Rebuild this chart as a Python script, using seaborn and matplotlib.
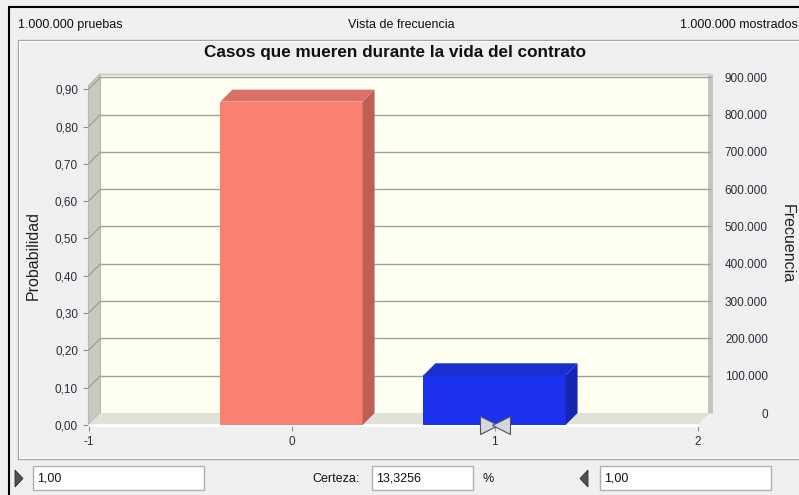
import numpy as np
import pandas as pd
import matplotlib
matplotlib.use("Agg")
import matplotlib.pyplot as plt
import matplotlib.transforms as mtransforms
from matplotlib.patches import Polygon, Rectangle
import seaborn as sns

# ---------------- data ----------------
categories = [0, 1]
probabilities = [0.866744, 0.133256]
n_trials = 1000000
groups = ["0", "1"]
x_ticks = [-1, 0, 1, 2]
x_tick_labels = ["-1", "0", "1", "2"]
prob_ticks = [0.0, 0.1, 0.2, 0.3, 0.4, 0.5, 0.6, 0.7, 0.8, 0.9]
prob_tick_labels = ["0,00", "0,10", "0,20", "0,30", "0,40", "0,50", "0,60", "0,70", "0,80", "0,90"]
freq_ticks = [0, 100000, 200000, 300000, 400000, 500000, 600000, 700000, 800000, 900000]
freq_tick_labels = ["0", "100.000", "200.000", "300.000", "400.000", "500.000",
                    "600.000", "700.000", "800.000", "900.000"]
title = "Casos que mueren durante la vida del contrato"
header_left = "1.000.000 pruebas"
header_mid = "Vista de frecuencia"
header_right = "1.000.000 mostrados"
lower_bound_text = "1,00"
upper_bound_text = "1,00"
certainty_text = "13,3256"
marker_value = 1.0

# ---------------- styles ----------------
front_colors = ["#FA8072", "#1B31EE"]
top_colors = ["#DC7066", "#1A2ED2"]
side_colors = ["#BE5E56", "#1526B2"]
bg = "#F0F0F0"
wall_back = "#FFFFF2"
wall_left = "#C9C9C1"
floor_col = "#E1E1D9"
grid_col = "#A0A0A0"
tick_col = "#2B2B3B"

sns.set_theme(style="white")
plt.rcParams["font.family"] = ["Liberation Sans", "DejaVu Sans"]

W, H = 799, 495
fig = plt.figure(figsize=(W / 100, H / 100), dpi=100, facecolor=bg)

def fx(px):
    return px / W

def fy(py):
    return 1 - py / H

# UI overlay in pixel coordinates
ui = fig.add_axes([0, 0, 1, 1], zorder=-1)
ui.set_xlim(0, W)
ui.set_ylim(H, 0)
ui.axis("off")
ui.plot([9, W], [7, 7], color="black", lw=1.5)
ui.plot([9, 9], [7, H], color="black", lw=1.5)
ui.add_patch(Rectangle((18, 40), 800, 419, fill=False, ec="#A0A0A0", lw=1))
ui.add_patch(Rectangle((19, 41), 800, 417, fill=False, ec="#FFFFFF", lw=0.8))
# bottom controls
ui.add_patch(Polygon([(15, 470), (15, 487), (23, 478.5)], closed=True, fc="#505050", ec="#303030", lw=0.6))
ui.add_patch(Polygon([(588, 470), (588, 487), (580, 478.5)], closed=True, fc="#505050", ec="#303030", lw=0.6))
for (x0, x1) in [(33, 204), (372, 473), (600, 771)]:
    ui.add_patch(Rectangle((x0, 466), x1 - x0, 24, fc="white", ec="#B0B0B0", lw=1))
fs_ui = 9
ui.text(37, 478.5, lower_bound_text, va="center", ha="left", fontsize=fs_ui, color="#111")
ui.text(360, 478.5, "Certeza:", va="center", ha="right", fontsize=fs_ui, color="#111")
ui.text(376, 478.5, certainty_text, va="center", ha="left", fontsize=fs_ui, color="#111")
ui.text(488, 478.5, "%", va="center", ha="center", fontsize=fs_ui, color="#111")
ui.text(604, 478.5, upper_bound_text, va="center", ha="left", fontsize=fs_ui, color="#111")
# header
ui.text(18, 25, header_left, va="center", ha="left", fontsize=fs_ui, color="#111")
ui.text(401, 25, header_mid, va="center", ha="center", fontsize=fs_ui, color="#111")
ui.text(798, 25, header_right, va="center", ha="right", fontsize=fs_ui, color="#111")
ui.text(395, 52, title, va="center", ha="center", fontsize=12.3, fontweight="bold", color="#111")
ui.text(33, 255, "Probabilidad", va="center", ha="center", rotation=90, fontsize=11.5, color="#222")
ui.text(787, 244, "Frecuencia", va="center", ha="center", rotation=270, fontsize=11.5, color="#222")

# ---------------- main chart ----------------
x_left, x_right = 88.5, 697.5
y_zero, y_top = 425, 85.5
depth = 12
ax = fig.add_axes([fx(x_left), fy(y_zero), (x_right - x_left) / W, (y_zero - y_top) / H])
ax.patch.set_visible(False)
for s in ax.spines.values():
    s.set_visible(False)

df = pd.DataFrame({"valor": categories, "prob": probabilities, "grupo": groups})
sns.barplot(data=df, x="valor", y="prob", hue="grupo",
            palette=dict(zip(groups, front_colors)), native_scale=True,
            width=0.7, dodge=False, saturation=1, legend=False, errorbar=None,
            linewidth=0, ax=ax, zorder=3)
bars = list(ax.patches)
ax.set_xlim(-1, 2)
ax.set_ylim(0, 0.91)
ymax = ax.get_ylim()[1]
xmin, xmax = ax.get_xlim()

inv = ax.transData.inverted()
p0 = ax.transData.transform((0, 0))
dxd, dyd = inv.transform(p0 + np.array([depth, depth])) - inv.transform(p0)
back = mtransforms.offset_copy(ax.transData, fig=fig, x=depth, y=depth, units="dots")

# walls
ax.add_patch(Rectangle((xmin, 0), xmax - xmin, ymax, transform=back, fc=wall_back, ec="none",
                       zorder=0.5, clip_on=False))
ax.add_patch(Polygon([(xmin, 0), (xmin, ymax), (xmin + dxd, ymax + dyd), (xmin + dxd, dyd)],
                     closed=True, fc=wall_left, ec="#B8B8B0", lw=0.8, zorder=0.6, clip_on=False))
ax.add_patch(Polygon([(xmin, 0), (xmax, 0), (xmax + dxd, dyd), (xmin + dxd, dyd)],
                     closed=True, fc=floor_col, ec="none", zorder=0.6, clip_on=False))
ax.plot([xmin, xmax], [0, 0], color="white", lw=2, zorder=0.65, clip_on=False)
ax.plot([xmax, xmax], [0, ymax], transform=back, color="#C4C4BC", lw=3.5, zorder=0.62, clip_on=False,
        solid_capstyle="butt")
ax.plot([xmin, xmax], [ymax, ymax], transform=back, color="#D8D8D0", lw=2, zorder=0.62, clip_on=False)
for yv in prob_ticks[1:]:
    ax.plot([xmin, xmax], [yv, yv], transform=back, color=grid_col, lw=1, zorder=0.7, clip_on=False)
    ax.plot([xmin, xmin + dxd], [yv, yv + dyd], color="#9A9A94", lw=0.8, zorder=0.7, clip_on=False)

# 3D faces of bars
for p, tc, sc in zip(bars, top_colors, side_colors):
    x0, w, h = p.get_x(), p.get_width(), p.get_height()
    ax.add_patch(Polygon([(x0, h), (x0 + w, h), (x0 + w + dxd, h + dyd), (x0 + dxd, h + dyd)],
                         closed=True, fc=tc, ec="none", zorder=3, clip_on=False))
    ax.add_patch(Polygon([(x0 + w, 0), (x0 + w, h), (x0 + w + dxd, h + dyd), (x0 + w + dxd, dyd)],
                         closed=True, fc=sc, ec="none", zorder=3, clip_on=False))
    p.set_clip_on(False)

# bowtie marker
lm = mtransforms.offset_copy(ax.transData, fig=fig, x=-6, y=0, units="dots")
rm = mtransforms.offset_copy(ax.transData, fig=fig, x=6, y=0, units="dots")
ax.plot([marker_value], [0], marker=">", markersize=13, mfc="#D6D6DE", mec="#505060", mew=0.8,
        transform=lm, zorder=5, clip_on=False, ls="none")
ax.plot([marker_value], [0], marker="<", markersize=13, mfc="#D6D6DE", mec="#505060", mew=0.8,
        transform=rm, zorder=5, clip_on=False, ls="none")

ax.set_xticks(x_ticks)
ax.set_xticklabels(x_tick_labels)
ax.set_yticks(prob_ticks)
ax.set_yticklabels(prob_tick_labels)
ax.set_xlabel("")
ax.set_ylabel("")
ax.tick_params(axis="y", left=True, length=4, width=0.8, color="#909090", pad=3.5,
               labelsize=8.5, labelcolor=tick_col)
ax.tick_params(axis="x", bottom=True, length=4, width=0.8, color="#909090", pad=4,
               labelsize=8.5, labelcolor=tick_col)

# frequency axis (on the back plane)
ax2 = fig.add_axes([fx(x_left + depth), fy(y_zero - depth), (x_right - x_left) / W, (y_zero - y_top) / H])
ax2.patch.set_visible(False)
for s in ax2.spines.values():
    s.set_visible(False)
ax2.set_xticks([])
ax2.set_ylim(0, ymax * n_trials)
ax2.yaxis.tick_right()
ax2.set_yticks(freq_ticks)
ax2.set_yticklabels(freq_tick_labels)
ax2.tick_params(axis="y", right=False, left=False, labelright=True, labelleft=False, length=0,
                pad=42, labelsize=8.5, labelcolor=tick_col)
for lab in ax2.get_yticklabels():
    lab.set_horizontalalignment("right")

fig.savefig("out.png", dpi=100, facecolor=bg)
